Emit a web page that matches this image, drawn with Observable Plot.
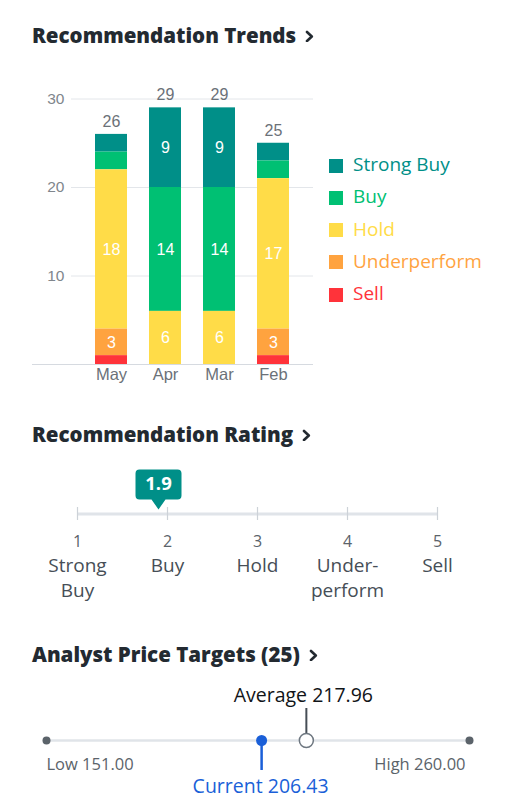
<!DOCTYPE html>
<html><head><meta charset="utf-8">
<script src="https://cdn.jsdelivr.net/npm/d3@7"></script>
<script src="https://cdn.jsdelivr.net/npm/@observablehq/plot@0.6"></script>
<style>
html,body{margin:0;padding:0;background:#fff;}
#root{position:relative;width:507px;height:806px;overflow:hidden;font-family:"Open Sans",sans-serif;}
.title{position:absolute;left:32px;font-weight:800;font-size:20.5px;line-height:24px;height:24px;color:#232a31;white-space:nowrap;}
.title svg{vertical-align:1px;margin-left:9px;}
.abs{position:absolute;left:0;}
.abs svg{display:block;}
.legend-row{position:absolute;left:329px;height:19px;display:flex;align-items:center;font-size:19px;line-height:19px;white-space:nowrap;}
.legend-row .sw{width:14px;height:14px;margin-right:10px;flex:none;}
.legend-row span{position:relative;top:-1px;}
</style></head><body><div id="root"></div><script>
// ---- data ----
const months = ["May", "Apr", "Mar", "Feb"];
const ratingNames = ["Strong Buy", "Buy", "Hold", "Underperform", "Sell"];
const ratingColors = ["#008f88", "#00c073", "#ffdc48", "#ffa33f", "#ff333a"];
const strongBuy = [2, 9, 9, 2];
const buy = [2, 14, 14, 2];
const hold = [18, 6, 6, 17];
const underperform = [3, 0, 0, 3];
const sell = [1, 0, 0, 1];
const yTicks = [10, 20, 30];

const scaleValues = [1, 2, 3, 4, 5];
const scaleLabels = ["Strong\nBuy", "Buy", "Hold", "Under-\nperform", "Sell"];
const ratingValue = 1.9;

const targetCount = 25;
const priceLow = 151.00;
const priceHigh = 260.00;
const priceAverage = 217.96;
const priceCurrent = 206.43;

// ---- derived tables ----
const series = [strongBuy, buy, hold, underperform, sell];
const rows = [];
months.forEach((m, i) => ratingNames.forEach((r, j) => rows.push({month: m, rating: r, value: series[j][i]})));
const barRows = rows.filter(d => d.value > 0);
const totals = months.map((m, i) => ({month: m, total: d3.sum(series, s => s[i])}));
const stackOrder = ratingNames.slice().reverse();

const root = document.getElementById("root");
const chevron = '<svg width="9" height="12" viewBox="0 0 9 12"><polyline points="2,2 6.8,6.5 2,11" fill="none" stroke="currentColor" stroke-width="2.6" stroke-linecap="round" stroke-linejoin="round"/></svg>';
function addTitle(text, top) {
  const d = document.createElement("div");
  d.className = "title";
  d.style.top = top + "px";
  d.appendChild(document.createTextNode(text));
  d.insertAdjacentHTML("beforeend", chevron);
  root.appendChild(d);
}
function addBlock(node, top) {
  const d = document.createElement("div");
  d.className = "abs";
  d.style.top = top + "px";
  d.appendChild(node);
  root.appendChild(d);
}

// ---- Recommendation Trends ----
addTitle("Recommendation Trends", 22.5);
const trends = Plot.plot({
  width: 330, height: 330,
  marginTop: 28.5, marginBottom: 36, marginLeft: 71, marginRight: 17,
  style: {fontFamily: "'Liberation Sans', Arial, sans-serif", fontSize: "15.5px", color: "#80868c", background: "transparent", overflow: "visible"},
  x: {domain: months, padding: 0.4, axis: null},
  y: {domain: [0, 30], ticks: yTicks, tickSize: 0, tickPadding: 7, label: null},
  color: {domain: ratingNames, range: ratingColors},
  marks: [
    Plot.ruleY(yTicks, {stroke: "#e3e6ea", strokeWidth: 1}),
    Plot.ruleY([0], {stroke: "#d6dae0", strokeWidth: 1, insetLeft: -39}),
    Plot.barY(barRows, {x: "month", y: "value", fill: "rating", z: "rating", order: stackOrder}),
    Plot.text(barRows, Plot.stackY({x: "month", y: "value", z: "rating", order: stackOrder,
      text: d => d.value > 2 ? String(d.value) : "", fill: "#fff", fontSize: 16})),
    Plot.text(totals, {x: "month", y: "total", text: d => String(d.total), dy: -12.7, fill: "#6b7178", fontSize: 16}),
    Plot.text(months, {x: d => d, frameAnchor: "bottom", dy: 15.6, fill: "#6b7178", fontSize: 16.5})
  ]
});
addBlock(trends, 70);

// legend from the plot's color scale
const colorScale = trends.scale("color");
ratingNames.forEach((name, i) => {
  const row = document.createElement("div");
  row.className = "legend-row";
  row.style.top = (165.5 + i * 32.25 - 9.5) + "px";
  const c = colorScale.apply(name);
  row.innerHTML = `<div class="sw" style="background:${c}"></div><span style="color:${c}">${name}</span>`;
  root.appendChild(row);
});

// ---- Recommendation Rating ----
addTitle("Recommendation Rating", 421.5);
const callout = {
  draw(ctx) {
    const w = 23, r = 4, top = -40, bot = -10, ph = 7;
    ctx.moveTo(0, 0);
    ctx.lineTo(-ph, bot);
    ctx.lineTo(-w + r, bot);
    ctx.arcTo(-w, bot, -w, bot - r, r);
    ctx.lineTo(-w, top + r);
    ctx.arcTo(-w, top, -w + r, top, r);
    ctx.lineTo(w - r, top);
    ctx.arcTo(w, top, w, top + r, r);
    ctx.lineTo(w, bot - r);
    ctx.arcTo(w, bot, w - r, bot, r);
    ctx.lineTo(ph, bot);
    ctx.closePath();
  }
};
const ratingPlot = Plot.plot({
  width: 507, height: 160,
  marginTop: 47, marginBottom: 100, marginLeft: 77, marginRight: 70,
  style: {fontFamily: "'Open Sans', sans-serif", fontSize: "16px", color: "#464e56", background: "transparent", overflow: "visible"},
  x: {domain: d3.extent(scaleValues), axis: null},
  marks: [
    Plot.ruleY([d3.extent(scaleValues)], {x1: d => d[0], x2: d => d[1], y: null, stroke: "#e0e4e9", strokeWidth: 3}),
    Plot.tickX(scaleValues, {x: d => d, stroke: "#cdd2d8", strokeWidth: 1.2}),
    Plot.text(scaleValues, {x: d => d, text: d => String(d), dy: 27.4, fontSize: 16, fill: "#5b636a"}),
    Plot.text(scaleValues, {x: d => d, text: (d, i) => scaleLabels[i], lineAnchor: "top", lineHeight: 1.32, dy: 40.5, fontSize: 19, fill: "#464e56"}),
    Plot.dot([ratingValue], {x: d => d, symbol: callout, r: 10, fill: "#008f88", stroke: "none", dy: -4.5}),
    Plot.text([ratingValue], {x: d => d, text: d => d.toFixed(1), dy: -29.5, fill: "#fff", fontWeight: 700, fontSize: 18.5})
  ]
});
addBlock(ratingPlot, 460);

// ---- Analyst Price Targets ----
addTitle(`Analyst Price Targets (${targetCount})`, 641.5);
const blue = "#1a5fd8";
const pricePlot = Plot.plot({
  width: 507, height: 120,
  marginTop: 0, marginBottom: 0, marginLeft: 46, marginRight: 38,
  style: {fontFamily: "'Open Sans', sans-serif", fontSize: "16px", color: "#464e56", background: "transparent", overflow: "visible"},
  x: {domain: [priceLow, priceHigh], axis: null},
  marks: [
    Plot.ruleY([[priceLow, priceHigh]], {x1: d => d[0], x2: d => d[1], y: null, stroke: "#e0e4e9", strokeWidth: 2.5}),
    Plot.ruleX([priceCurrent], {x: d => d, insetTop: 60, insetBottom: 30, stroke: blue, strokeWidth: 2.5}),
    Plot.ruleX([priceAverage], {x: d => d, insetTop: 28, insetBottom: 67, stroke: "#464e56", strokeWidth: 2}),
    Plot.dot([priceLow, priceHigh], {x: d => d, r: 4, fill: "#5b636a", stroke: "none"}),
    Plot.dot([priceCurrent], {x: d => d, r: 5.5, fill: blue, stroke: "none"}),
    Plot.dot([priceAverage], {x: d => d, r: 7, fill: "#fff", stroke: "#6e7780", strokeWidth: 1.5}),
    Plot.text([priceAverage], {x: d => d, text: d => `Average ${d.toFixed(2)}`, dx: -3, dy: -45.2, fontSize: 19.5, fill: "#111418"}),
    Plot.text([priceCurrent], {x: d => d, text: d => `Current ${d.toFixed(2)}`, dx: -1, dy: 45.8, fontSize: 19.5, fill: blue}),
    Plot.text([priceLow], {x: d => d, text: d => `Low ${d.toFixed(2)}`, textAnchor: "start", dy: 24.7, fontSize: 16.5, fill: "#5b636a"}),
    Plot.text([priceHigh], {x: d => d, text: d => `High ${d.toFixed(2)}`, textAnchor: "end", dx: -4, dy: 24.7, fontSize: 16.5, fill: "#5b636a"})
  ]
});
addBlock(pricePlot, 680);
</script></body></html>
